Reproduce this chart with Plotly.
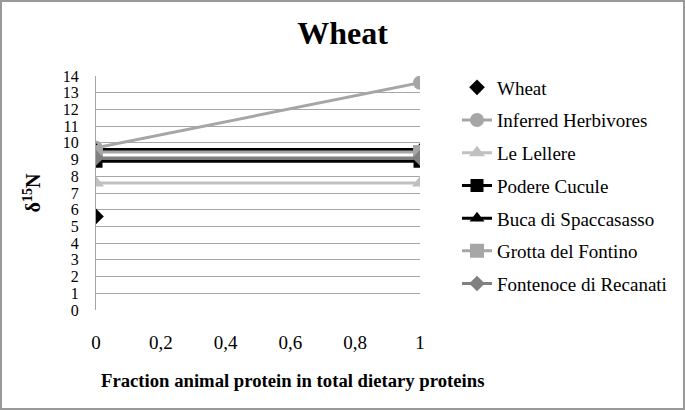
import plotly.graph_objects as go

x_vals = [0, 1]
wheat_x = [0]
wheat_y = [5.6]
herbivores = [9.7, 13.6]
le_lellere = [7.6, 7.6]
podere_cucule = [8.9, 8.9]
buca_spaccasasso = [9.6, 9.6]
grotta_fontino = [9.45, 9.45]
fontenoce = [9.1, 9.1]

x_tickvals = [0, 0.2, 0.4, 0.6, 0.8, 1]
x_ticktext = ["0", "0,2", "0,4", "0,6", "0,8", "1"]
y_tickvals = list(range(0, 15))

FONT = "Liberation Serif"

fig = go.Figure()
fig.add_trace(go.Scatter(x=wheat_x, y=wheat_y, mode="markers", name="Wheat",
                         marker=dict(symbol="diamond", size=12, color="black"),
                         legendgroup="a"))
fig.add_trace(go.Scatter(x=x_vals, y=herbivores, mode="lines+markers", name="Inferred Herbivores",
                         line=dict(color="#A6A6A6", width=3),
                         marker=dict(symbol="circle", size=14, color="#A6A6A6"),
                         legendgroup="b"))
fig.add_trace(go.Scatter(x=x_vals, y=le_lellere, mode="lines+markers", name="Le Lellere",
                         line=dict(color="#C0C0C0", width=3),
                         marker=dict(symbol="triangle-up", size=14, color="#C0C0C0"),
                         legendgroup="c"))
fig.add_trace(go.Scatter(x=x_vals, y=podere_cucule, mode="lines+markers", name="Podere Cucule",
                         line=dict(color="black", width=3),
                         marker=dict(symbol="square", size=13, color="black"),
                         legendgroup="d"))
fig.add_trace(go.Scatter(x=x_vals, y=buca_spaccasasso, mode="lines+markers", name="Buca di Spaccasasso",
                         line=dict(color="black", width=3),
                         marker=dict(symbol="triangle-up", size=13, color="black"),
                         legendgroup="e"))
fig.add_trace(go.Scatter(x=x_vals, y=grotta_fontino, mode="lines+markers", name="Grotta del Fontino",
                         line=dict(color="#A6A6A6", width=3),
                         marker=dict(symbol="square", size=14, color="#A6A6A6"),
                         legendgroup="f"))
fig.add_trace(go.Scatter(x=x_vals, y=fontenoce, mode="lines+markers", name="Fontenoce di Recanati",
                         line=dict(color="#808080", width=3),
                         marker=dict(symbol="diamond", size=12, color="#808080"),
                         legendgroup="g"))

fig.update_layout(
    width=685, height=410,
    paper_bgcolor="white", plot_bgcolor="white",
    margin=dict(l=96, r=265, t=76, b=100),
    font=dict(family=FONT, size=18, color="black"),
    title=dict(text="<b>Wheat</b>", x=0.5, xanchor="center", y=1 - 33 / 410, yanchor="middle",
               yref="container", font=dict(family=FONT, size=32, color="black")),
    xaxis=dict(range=[0, 1], tickvals=x_tickvals, ticktext=x_ticktext, showgrid=False,
               zeroline=False, showline=False, ticks="", ticklabelstandoff=19,
               tickfont=dict(family=FONT, size=19)),
    yaxis=dict(range=[0, 14], tickvals=y_tickvals, showgrid=True, gridcolor="#A6A6A6", gridwidth=1,
               zeroline=False, showline=True, linecolor="#A6A6A6", linewidth=1, ticks="",
               ticklabelstandoff=13, tickfont=dict(family=FONT, size=16),
               title=dict(text="<b>δ<sup>15</sup>N</b>", font=dict(family=FONT, size=20), standoff=16)),
    legend=dict(x=(457 - 96) / 324, xanchor="left", y=(310 - 68.5) / 234, yanchor="top",
                font=dict(family=FONT, size=19), tracegroupgap=5, bgcolor="rgba(0,0,0,0)",
                maxheight=400),
    showlegend=True,
)

fig.add_annotation(text="<b>Fraction animal protein in total dietary proteins</b>",
                   xref="paper", yref="paper", x=(292 - 96) / 324, y=(310 - 380) / 234,
                   xanchor="center", yanchor="middle", showarrow=False,
                   font=dict(family=FONT, size=18.7, color="black"))

fig.add_shape(type="rect", xref="paper", yref="paper",
              x0=(1 - 96) / 324, x1=(684 - 96) / 324, y0=(310 - 409) / 234, y1=(310 - 1) / 234,
              line=dict(color="#999999", width=2), fillcolor="rgba(0,0,0,0)", layer="below")

fig.write_html("out.html", config={"displayModeBar": False},
               post_script="document.body.style.margin='0';document.body.style.overflow='hidden';")
